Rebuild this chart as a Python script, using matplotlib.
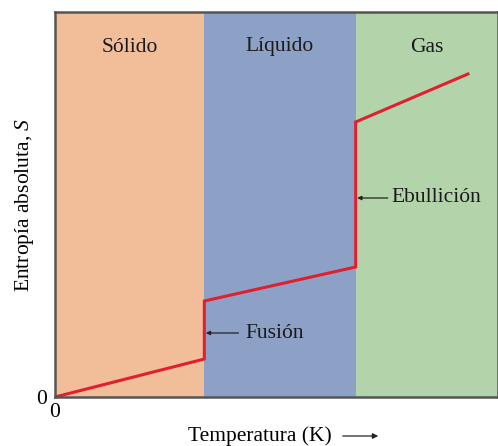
import matplotlib
matplotlib.use("Agg")
import matplotlib.pyplot as plt

plt.rcParams['font.family'] = ['Liberation Serif', 'DejaVu Serif']
plt.rcParams['mathtext.fontset'] = 'custom'
plt.rcParams['mathtext.it'] = 'Liberation Serif:italic'
plt.rcParams['mathtext.rm'] = 'Liberation Serif'

# Phase regions (temperature, arbitrary units)
phases = ["Sólido", "Líquido", "Gas"]
phase_bounds = [0, 149, 300, 442]
phase_colors = ["#F2BE9A", "#8DA1C6", "#B3D3AA"]

# Entropy curve
temp = [0, 149, 149, 300, 300, 412]
entropy = [0, 38, 96, 130, 275, 323]

FS = 15.5
fig = plt.figure(figsize=(4.98, 4.46), dpi=100)
ax = fig.add_axes([55/498, 49/446, 443/498, 385/446])
for i, name in enumerate(phases):
    ax.axvspan(phase_bounds[i], phase_bounds[i+1], color=phase_colors[i], lw=0)
    ax.text((phase_bounds[i] + phase_bounds[i+1]) / 2, 350, name,
            ha='center', va='center', fontsize=FS, color='#1a1a1a')
ax.plot(temp, entropy, color='#E0202F', lw=2.2, solid_joinstyle='miter')

ax.set_xlim(phase_bounds[0], phase_bounds[-1])
ax.set_ylim(0, 385)
for s in ax.spines.values():
    s.set_color('#555555')
    s.set_linewidth(1.8)

ax.set_xticks([0])
ax.set_yticks([0])
ax.tick_params(length=0, labelsize=FS)
ax.tick_params(axis='x', pad=4)
ax.tick_params(axis='y', pad=6)
ax.set_xticklabels(['0'])
ax.set_yticklabels(['0'])

ax.annotate('', xy=(150.5, 64), xytext=(183, 64),
            arrowprops=dict(arrowstyle='-|>', color='#222222', lw=0.9,
                            mutation_scale=6, shrinkA=0, shrinkB=0))
ax.text(190, 64, 'Fusión', ha='left', va='center', fontsize=FS, color='#1a1a1a')
ax.annotate('', xy=(301.5, 199), xytext=(332, 199),
            arrowprops=dict(arrowstyle='-|>', color='#222222', lw=0.9,
                            mutation_scale=6, shrinkA=0, shrinkB=0))
ax.text(336, 199, 'Ebullición', ha='left', va='center', fontsize=FS, color='#1a1a1a')

ax.set_ylabel('Entropía absoluta, $S$', fontsize=FS, labelpad=0)

fig.text(260/498, 1 - 436/446, 'Temperatura (K)', ha='center', va='center', fontsize=FS)
fig.add_artist(matplotlib.patches.FancyArrowPatch(
    (340/498, 1 - 436/446), (381/498, 1 - 436/446), transform=fig.transFigure,
    arrowstyle='-|>', mutation_scale=8, color='#222222', lw=0.9))

fig.savefig('out.png', dpi=100)
